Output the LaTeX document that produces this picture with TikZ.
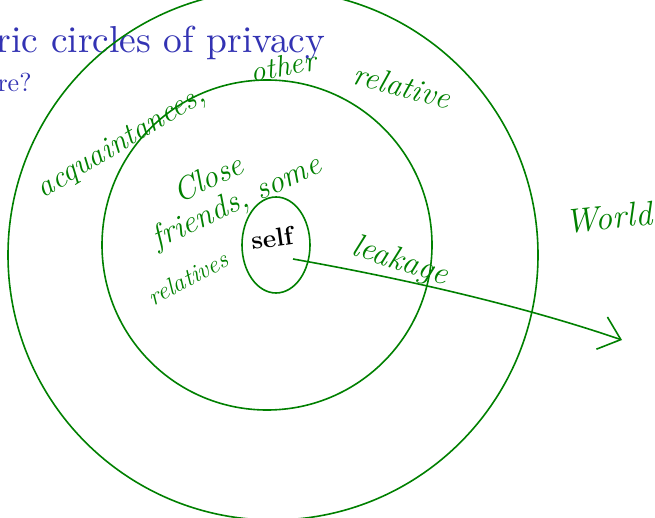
\documentclass[tikz,border=0pt]{standalone}
\usetikzlibrary{arrows.meta,shapes.geometric}
\definecolor{pen}{RGB}{0,128,0}
\definecolor{titleblue}{RGB}{51,51,179}
\tikzset{
  ring/.style={draw=pen, line width=1.6pt, circle, inner sep=0pt},
  selfring/.style={draw=pen, line width=1.6pt, ellipse, inner sep=0pt},
  hand/.style={text=pen, inner sep=0pt, font=\itshape\fontsize{#1}{#1}\selectfont},
  hand/.default=30,
  leak/.style={draw=pen, line width=1.6pt, -{Straight Barb[length=20pt,width=34pt,line width=1.6pt]}},
  titletext/.style={text=titleblue, inner sep=0pt, anchor=base west, font=\fontsize{10}{12}\selectfont}
}
\begin{document}
\begin{tikzpicture}[x=1pt,y=-1pt]
\useasboundingbox (0,0) rectangle (655,518);
\clip (0,0) rectangle (655,518);
% title
\node[titletext, scale=3.75] (title) at (-4,53) {ric circles of privacy};
\node[titletext, scale=2.6] (sub) at (-3,92) {re?};
% circles
\node[ring, minimum size=530pt] (outer) at (273,255) {};
\node[ring, minimum size=330pt] (middle) at (267,245) {};
\node[selfring, minimum width=68pt, minimum height=96pt] (selfnode) at (276,245) {};
% handwriting
\node[hand=31, rotate=31] (acq) at (122,143) {acquaintances,};
\node[hand=30, rotate=11] (other) at (283,66) {other};
\node[hand=32, rotate=-15] (rel1) at (402,86) {relative};
\node[hand=32, rotate=25] (close) at (208,178) {Close};
\node[hand=32, rotate=25] (friends) at (237,203) {friends, some};
\node[hand=25, rotate=28] (rel2) at (188,278) {relatives};
\node[inner sep=0pt, rotate=8, font=\bfseries\fontsize{26}{26}\selectfont] (selflabel) at (272,238) {self};
\node[hand=33, rotate=-18] (leakage) at (400,262) {leakage};
\node[hand=34, rotate=6, anchor=west] (world) at (565,222) {World};
% leakage arrow
\coordinate (leakstart) at (293,259);
\coordinate (leakend) at (622,340);
\draw[leak] (leakstart) .. controls (400,278) and (520,305) .. (leakend);
\end{tikzpicture}
\end{document}
